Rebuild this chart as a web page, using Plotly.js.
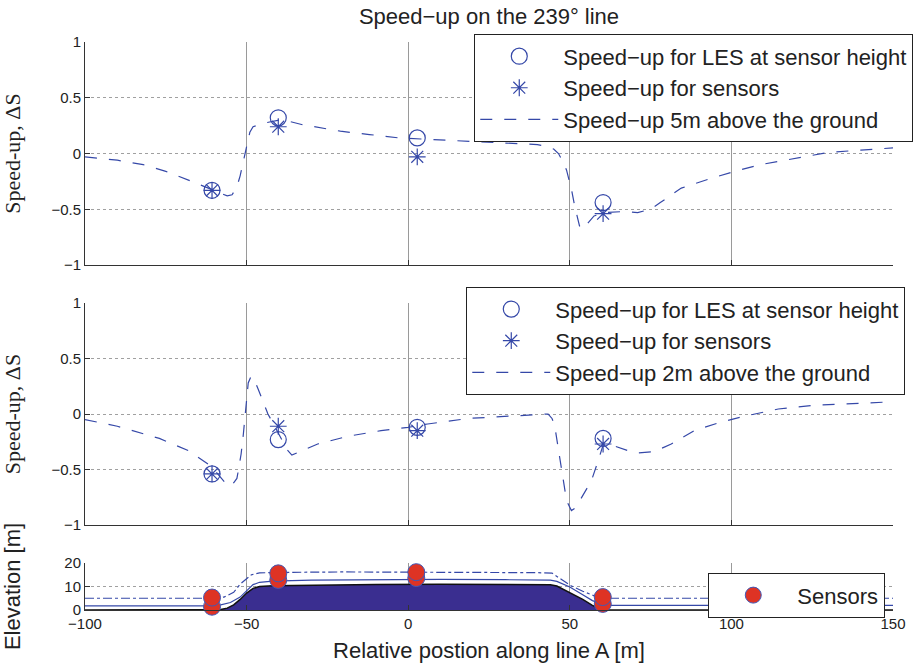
<!DOCTYPE html>
<html>
<head>
<meta charset="utf-8">
<script src="https://cdn.plot.ly/plotly-3.0.1.min.js"></script>
<style>html,body{margin:0;padding:0;background:#fff;}#chart{width:913px;height:668px;}</style>
</head>
<body>
<div id="chart"></div>
<script>
// ---- Top panel: speed-up 5 m above ground ----
const topLineX = [-100,-90,-82,-75,-67,-61,-58,-56,-54.5,-53,-52,-51,-50,-49,-48,-45,-40,-37,-33,-29,-21,-12,-3,4,12,23,33,40,43,45,46.5,48,49,50.5,51.5,53,54,55.5,57.5,61,67,71,75,78,84.5,93,101,109,120,130,140,150];
const topLineY = [-0.03,-0.06,-0.1,-0.16,-0.25,-0.32,-0.36,-0.38,-0.37,-0.3,-0.2,-0.06,0.08,0.19,0.24,0.27,0.3,0.29,0.26,0.24,0.2,0.17,0.14,0.13,0.12,0.1,0.09,0.08,0.06,0.04,0.0,-0.08,-0.15,-0.32,-0.47,-0.65,-0.68,-0.63,-0.56,-0.53,-0.52,-0.53,-0.5,-0.44,-0.31,-0.23,-0.16,-0.1,-0.04,0.01,0.03,0.05];
const sensorX = [-60.7,-40.2,2.8,60.3];
const topLES = [-0.33,0.32,0.14,-0.44];
const topSensors = [-0.33,0.24,-0.03,-0.54];

// ---- Middle panel: speed-up 2 m above ground ----
const midLineX = [-100,-90,-77,-68,-61,-58,-55.7,-54,-53,-52.5,-51.7,-51,-50.4,-49.5,-48.6,-47.5,-46.5,-45,-43.4,-41.5,-39.3,-37.5,-36,-33,-28,-18.6,-8.4,0,6,18.6,33,40,43.3,44.5,45.3,46.7,48,49,50.5,51.5,53.5,56.7,58.8,60.4,62,64,68,71.2,76,81.4,88.5,96,104,114.5,125.7,135,150];
const midLineY = [-0.05,-0.11,-0.22,-0.33,-0.47,-0.57,-0.65,-0.62,-0.58,-0.5,-0.36,-0.18,0.0,0.28,0.34,0.3,0.23,0.12,0.0,-0.1,-0.22,-0.32,-0.37,-0.33,-0.27,-0.2,-0.15,-0.12,-0.09,-0.04,-0.02,-0.01,0.0,-0.04,-0.1,-0.36,-0.6,-0.78,-0.87,-0.85,-0.76,-0.6,-0.42,-0.27,-0.27,-0.29,-0.33,-0.35,-0.34,-0.27,-0.15,-0.08,-0.02,0.045,0.08,0.09,0.11];
const midLES = [-0.54,-0.23,-0.12,-0.22];
const midSensors = [-0.54,-0.11,-0.15,-0.27];

// ---- Bottom panel: terrain elevation ----
const groundX = [-100,-62,-58,-56,-54,-52,-50,-48,-46,-42,-30,-10,10,30,44,46,50,54,57,59,61,63,150];
const groundY = [0,0,0.2,0.8,2.2,4.5,7.2,9.2,10,10.3,10.6,10.9,11,10.9,10.7,10.2,7.5,4.5,2,0.6,0.1,0,0];
const line2X = [-100,-62,-58,-55,-52,-50,-48,-46,-42,-30,-10,10,30,44,46,50,54,57,60,63,150];
const line2Y = [1.8,1.8,2.2,3.2,5.5,8.2,10.8,11.8,12.3,12.7,12.9,13.0,12.9,12.7,12.2,9.8,6.5,4,2.5,2,2];
const line5X = [-100,-60,-57,-54,-52,-50,-48.5,-46,-40,-20,0,20,40,44.5,47,50,54,58.5,62,150];
const line5Y = [5,5,5.5,7.5,11,13.5,15,15.8,16,16.2,16.2,16.1,15.9,15.7,13.5,10.6,8,5.5,5,5];
const sensorsBX = [-60.7,-60.7,-40.2,-40.2,2.5,2.5,60.2,60.2];
const sensorsBY = [1.4,5.3,12.8,15.6,13.6,16.1,2.6,5.5];

const blue = '#3548a8';
const dashSpec = '12px,12px';

const traces = [
  {x:sensorX, y:topLES, xaxis:'x', yaxis:'y', mode:'markers', name:'Speed\u2212up for LES at sensor height', legend:'legend',
   marker:{symbol:'circle-open', size:16, color:blue, line:{width:1.2}}},
  {x:sensorX, y:topSensors, xaxis:'x', yaxis:'y', mode:'markers', name:'Speed\u2212up for sensors', legend:'legend',
   marker:{symbol:'asterisk-open', size:14, color:blue, line:{width:1.2, color:blue}}},
  {x:topLineX, y:topLineY, xaxis:'x', yaxis:'y', mode:'lines', name:'Speed\u2212up 5m above the ground', legend:'legend',
   line:{color:blue, width:1.2, dash:dashSpec}},

  {x:sensorX, y:midLES, xaxis:'x2', yaxis:'y2', mode:'markers', name:'Speed\u2212up for LES at sensor height', legend:'legend2',
   marker:{symbol:'circle-open', size:16, color:blue, line:{width:1.2}}},
  {x:sensorX, y:midSensors, xaxis:'x2', yaxis:'y2', mode:'markers', name:'Speed\u2212up for sensors', legend:'legend2',
   marker:{symbol:'asterisk-open', size:14, color:blue, line:{width:1.2, color:blue}}},
  {x:midLineX, y:midLineY, xaxis:'x2', yaxis:'y2', mode:'lines', name:'Speed\u2212up 2m above the ground', legend:'legend2',
   line:{color:blue, width:1.2, dash:dashSpec}},

  {x:groundX, y:groundY, xaxis:'x3', yaxis:'y3', mode:'lines', fill:'tozeroy', fillcolor:'#3a2e90',
   line:{color:'#111', width:1.5}, showlegend:false, hoverinfo:'skip'},
  {x:line2X, y:line2Y, xaxis:'x3', yaxis:'y3', mode:'lines', line:{color:blue, width:1.2}, showlegend:false},
  {x:line5X, y:line5Y, xaxis:'x3', yaxis:'y3', mode:'lines', line:{color:blue, width:1.2, dash:'dashdot'}, showlegend:false},
  {x:sensorsBX, y:sensorsBY, xaxis:'x3', yaxis:'y3', mode:'markers', name:'Sensors', legend:'legend3', cliponaxis:false,
   marker:{symbol:'circle', size:17, color:'#de3324', line:{color:'#4059b8', width:1}}}
];

const tickFont = {family:'Liberation Sans, Arial, sans-serif', size:15, color:'#222'};
function xax(showLabels, anchor) {
  return {anchor:anchor, range:[-100,150], tickvals:[-100,-50,0,50,100,150], showticklabels:showLabels,
    ticks:'inside', ticklen:5, tickcolor:'#333', showline:true, linecolor:'#333', linewidth:1,
    showgrid:true, gridcolor:'#9a9a9a', gridwidth:1, zeroline:false, tickfont:tickFont};
}
function yax(domain, range, tickvals, title, tfont, standoff) {
  return {domain:domain, range:range, tickvals:tickvals,
    ticks:'inside', ticklen:5, tickcolor:'#333', showline:true, linecolor:'#333', linewidth:1,
    showgrid:true, gridcolor:'#a0a0a0', griddash:'dot', gridwidth:1, zeroline:false, tickfont:tickFont,
    title:{text:title, font:tfont, standoff:standoff}};
}
const serifFont = {family:'Liberation Serif', size:22, color:'#222'};
const sansFont = {family:'Liberation Sans, Arial, sans-serif', size:22, color:'#222'};
const legFont = {family:'Liberation Sans, Arial, sans-serif', size:22, color:'#222'};

const layout = {
  width:913, height:668, paper_bgcolor:'#fff', plot_bgcolor:'#fff',
  margin:{l:85, r:20, t:42, b:58, autoexpand:false},
  title:{text:'Speed\u2212up on the 239\u00b0 line', font:{family:'Liberation Sans, Arial, sans-serif', size:22, color:'#222'},
    x:0.5, xref:'paper', xanchor:'center', y:1-16/668, yref:'container', yanchor:'middle'},
  xaxis: xax(false,'y'),
  xaxis2: Object.assign(xax(false,'y2'), {matches:'x'}),
  xaxis3: Object.assign(xax(true,'y3'), {matches:'x', title:{text:'Relative postion along line A [m]', font:sansFont, standoff:11}}),
  yaxis: Object.assign(yax([0.6074,1],[-1,1],[-1,-0.5,0,0.5,1],'Speed-up, \u0394S',serifFont,25), {anchor:'x'}),
  yaxis2: Object.assign(yax([0.1496,0.5405],[-1,1],[-1,-0.5,0,0.5,1],'Speed-up, \u0394S',serifFont,25), {anchor:'x2'}),
  yaxis3: Object.assign(yax([0,0.0827],[0,20],[0,10,20],'Elevation [m]',sansFont,41), {anchor:'x3'}),
  showlegend:true,
  legend:{x:0.4814, y:1.014, xanchor:'left', yanchor:'top', bgcolor:'#fff', bordercolor:'#222', borderwidth:1.3,
    font:legFont, itemwidth:78, tracegroupgap:0},
  legend2:{x:0.4715, y:0.5687, xanchor:'left', yanchor:'top', bgcolor:'#fff', bordercolor:'#222', borderwidth:1.3,
    font:legFont, itemwidth:78, tracegroupgap:0},
  legend3:{x:0.771, y:0.0651, xanchor:'left', yanchor:'top', bgcolor:'#fff', bordercolor:'#222', borderwidth:1.3,
    font:legFont, itemwidth:78, tracegroupgap:0}
};

Plotly.newPlot('chart', traces, layout, {displayModeBar:false, staticPlot:true});
</script>
</body>
</html>
